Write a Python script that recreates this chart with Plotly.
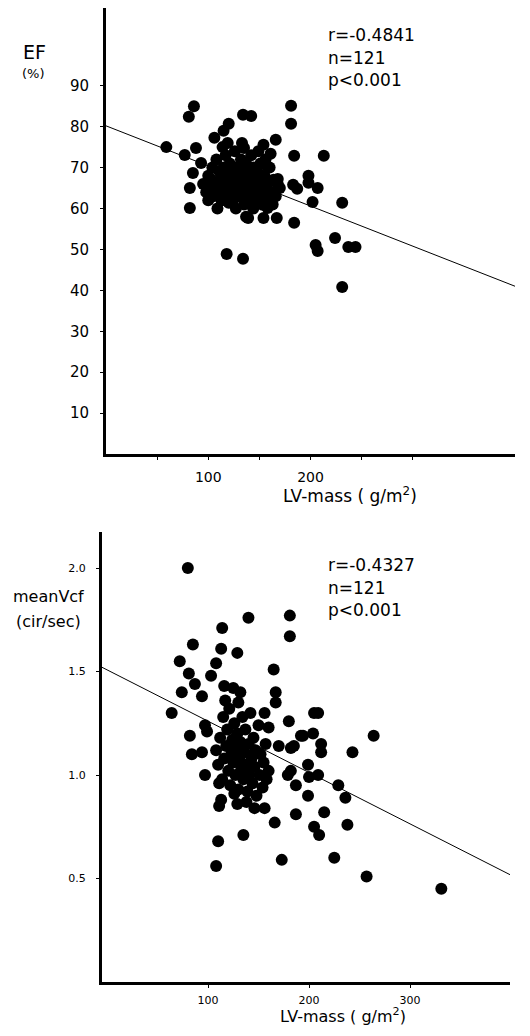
import plotly.graph_objects as go

# ---------------- Top panel: EF vs LV-mass ----------------
ef_mass = [86, 81, 134, 142, 181, 181, 120, 115, 106, 59, 77, 88, 93, 85, 82, 82,
           184, 213, 161, 154, 166, 156, 168, 183, 187, 198, 198, 207, 202, 231,
           224, 237, 244, 205, 207, 231, 118, 134, 139, 154, 167, 184, 142, 153,
           158, 120, 116, 134, 135,
           95, 98, 100, 102, 104, 105, 107, 108, 110, 111,
           112, 113, 115, 116, 117, 118, 119, 120, 121, 122,
           123, 124, 125, 126, 127, 128, 129, 130, 131, 132,
           133, 134, 135, 136, 137, 138, 139, 140, 141, 142,
           143, 144, 145, 146, 147, 148, 150, 151, 152, 154,
           155, 157, 158, 160, 162, 164, 166, 168, 170, 100,
           103, 109, 114, 119, 127, 133, 144, 149, 156, 163, 137]
ef_value = [85, 82.4, 82.9, 82.6, 85.1, 80.7, 80.7, 79, 77.3, 75, 73.1, 74.8, 71.1, 68.7, 65, 60.1,
            72.9, 72.9, 73.4, 75.6, 76.8, 70.7, 67.2, 65.8, 64.8, 68, 66.3, 65, 61.6, 61.4,
            52.8, 50.6, 50.6, 51.1, 49.6, 40.8, 48.9, 47.7, 57.7, 57.7, 57.7, 56.5, 60.9, 60.9,
            60.1, 61.4, 62.1, 63.8, 74.8,
            66, 64, 68, 65, 70, 63, 66, 72, 64, 69,
            67, 62, 70, 65, 73, 68, 63, 66, 71, 64,
            69, 62, 67, 74, 65, 70, 63, 68, 66, 72,
            64, 69, 61, 67, 71, 65, 63, 68, 66, 73,
            64, 70, 62, 67, 65, 69, 63, 71, 66, 64,
            68, 62, 66, 70, 64, 67, 63, 66, 65, 62,
            67, 60, 75, 76, 60, 76, 60, 74, 72, 61, 58]
ef_intercept = 80.2
ef_slope = -0.098
ef_stats = ["r=-0.4841", "n=121", "p<0.001"]
ef_yticks = [10, 20, 30, 40, 50, 60, 70, 80, 90]
top_xticks = [100, 200]
top_xminor = [50, 150, 250, 300]

# ---------------- Bottom panel: meanVcf vs LV-mass ----------------
vcf_mass = [80, 140, 181, 181, 85, 114, 113, 129, 72, 108, 165, 81, 103, 87, 74, 94,
            116, 125, 132, 167, 167, 117, 130,
            64, 82, 97, 99, 84, 94, 97, 111, 126, 111, 138, 146, 156, 166, 187, 199,
            215, 205, 238, 229, 236, 243, 212, 212, 205, 209, 204, 192, 185, 182, 180,
            170, 156, 160, 199, 209, 200, 182, 187, 179,
            110, 108, 135, 173, 210, 225, 257, 331, 264, 194,
            108, 110, 112, 114, 115, 116, 118, 119, 120, 121,
            122, 123, 124, 125, 126, 127, 128, 129, 130, 131,
            132, 133, 134, 135, 136, 137, 138, 139, 140, 141,
            142, 143, 144, 145, 146, 147, 148, 150, 151, 152,
            154, 155, 157, 158, 160, 113, 129]
vcf_value = [2.0, 1.76, 1.77, 1.67, 1.63, 1.71, 1.61, 1.59, 1.55, 1.54, 1.51, 1.49, 1.48, 1.44, 1.40, 1.38,
             1.43, 1.42, 1.40, 1.40, 1.35, 1.36, 1.35,
             1.30, 1.19, 1.24, 1.21, 1.10, 1.11, 1.00, 0.96, 0.91, 0.85, 0.87, 0.84, 0.84, 0.77, 0.81, 0.90,
             0.82, 0.75, 0.76, 0.95, 0.89, 1.11, 1.11, 1.15, 1.30, 1.30, 1.20, 1.19, 1.14, 1.13, 1.26,
             1.14, 1.30, 1.23, 1.05, 1.00, 0.99, 1.02, 0.95, 1.00,
             0.68, 0.56, 0.71, 0.59, 0.71, 0.60, 0.51, 0.45, 1.19, 1.19,
             1.12, 1.05, 1.18, 0.98, 1.28, 1.08, 1.14, 1.22, 1.02, 1.32,
             0.95, 1.10, 1.17, 1.06, 1.25, 1.00, 1.13, 1.20, 0.93, 1.08,
             1.16, 1.03, 1.28, 0.98, 1.11, 1.22, 1.05, 0.92, 1.15, 1.00,
             1.30, 1.08, 0.96, 1.18, 1.04, 1.12, 0.90, 1.24, 1.00, 1.10,
             0.94, 1.06, 1.15, 0.98, 1.02, 0.88, 0.86]
vcf_intercept = 1.508
vcf_slope = -0.00248
vcf_stats = ["r=-0.4327", "n=121", "p<0.001"]
vcf_yticks = [0.5, 1.0, 1.5, 2.0]
vcf_ylabels = ["0.5", "1.0", "1.5", "2.0"]
bot_xticks = [100, 200, 300]

FONT = "DejaVu Sans"
OFF = 8                     # default page body margin
W, H = 530 - 2 * OFF, 1036 - 2 * OFF


def fx(px):
    return min(1.0, max(0.0, (px - OFF) / W))


def fy(py):
    return min(1.0, max(0.0, 1 - (py - OFF) / H))


fig = go.Figure()

lx_top = [0, 400]
fig.add_trace(go.Scatter(x=lx_top, y=[ef_intercept + ef_slope * v for v in lx_top],
                         mode="lines", line=dict(color="black", width=1),
                         xaxis="x", yaxis="y", showlegend=False, hoverinfo="skip"))
fig.add_trace(go.Scatter(x=ef_mass, y=ef_value, mode="markers",
                         marker=dict(color="black", size=12, line=dict(width=0)),
                         xaxis="x", yaxis="y", showlegend=False))

lx_bot = [-5, 399]
fig.add_trace(go.Scatter(x=lx_bot, y=[vcf_intercept + vcf_slope * v for v in lx_bot],
                         mode="lines", line=dict(color="black", width=1),
                         xaxis="x2", yaxis="y2", showlegend=False, hoverinfo="skip"))
fig.add_trace(go.Scatter(x=vcf_mass, y=vcf_value, mode="markers",
                         marker=dict(color="black", size=12, line=dict(width=0)),
                         xaxis="x2", yaxis="y2", showlegend=False))

axis_common = dict(showgrid=False, zeroline=False, showline=True, linecolor="black",
                   linewidth=3, ticks="outside", ticklen=3, tickwidth=1, tickcolor="black",
                   fixedrange=True)

fig.update_layout(
    width=W, height=H,
    margin=dict(l=0, r=0, t=0, b=0),
    paper_bgcolor="white", plot_bgcolor="white",
    font=dict(family=FONT, color="black"),
    xaxis=dict(axis_common, domain=[fx(106), fx(515)], range=[0, 400],
               tickvals=top_xticks, tickfont=dict(size=14), ticklabelstandoff=5,
               minor=dict(tickvals=top_xminor, ticks="outside", ticklen=3, tickwidth=1,
                          tickcolor="black", showgrid=False),
               anchor="y"),
    yaxis=dict(axis_common, domain=[fy(454), fy(8)], range=[0, 109.0],
               tickvals=ef_yticks, tickfont=dict(size=15), ticklabelstandoff=8, anchor="x"),
    xaxis2=dict(axis_common, domain=[fx(102), fx(510)], range=[-5, 399],
                tickvals=bot_xticks, tickfont=dict(size=11), ticklabelstandoff=3, anchor="y2"),
    yaxis2=dict(axis_common, domain=[fy(982), fy(532)], range=[0, 2.174],
                tickvals=vcf_yticks, ticktext=vcf_ylabels, tickfont=dict(size=11),
                ticklabelstandoff=8, anchor="x2"),
)


def page_ann(text, px, py, size, xanchor="left", yanchor="middle"):
    fig.add_annotation(text=text, x=fx(px), y=fy(py), xref="paper", yref="paper",
                       showarrow=False, xanchor=xanchor, yanchor=yanchor,
                       font=dict(size=size, family=FONT, color="black"))


# top panel texts
page_ann("EF", 34, 52, 19, "center")
page_ann("(%)", 33, 73, 13, "center")
for i, t in enumerate(ef_stats):
    page_ann(t, 326, 35 + i * 22.5, 17)
page_ann("LV-mass ( g/m<sup>2</sup>)", 350, 495, 17, "center")

# bottom panel texts
page_ann("meanVcf", 48, 596, 16, "center")
page_ann("(cir/sec)", 48, 621, 16, "center")
for i, t in enumerate(vcf_stats):
    page_ann(t, 326, 565 + i * 22.5, 17)
page_ann("LV-mass ( g/m<sup>2</sup>)", 343, 1028, 16, "center", "bottom")

fig.write_html("out.html")
